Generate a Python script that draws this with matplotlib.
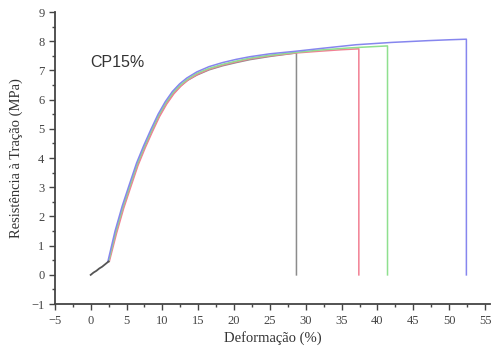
import matplotlib
matplotlib.use("Agg")
import matplotlib.pyplot as plt
from matplotlib.ticker import MultipleLocator

### Data ###

## common start of the test (toe region)
x_toe = [0, 0.4, 0.8, 1.2, 1.6, 2.0, 2.5]
y_toe = [0, 0.08, 0.14, 0.22, 0.28, 0.36, 0.46]

## gray specimen
x_gray = [2.5, 3.5, 4.5, 5.5, 6.5, 7.5, 8.5, 9.5, 10.5, 11.5, 12.5, 13.5, 14.8,
          16.5, 18.4, 20.3, 22.2, 25.0, 28.7, 28.7]
y_gray = [0.46, 1.42, 2.28, 3.02, 3.75, 4.35, 4.9, 5.42, 5.85, 6.2, 6.46, 6.66, 6.84,
          7.02, 7.16, 7.27, 7.37, 7.48, 7.6, 0]

## red specimen
x_red = [2.6, 3.6, 4.6, 5.6, 6.6, 7.6, 8.6, 9.6, 10.6, 11.6, 12.6, 13.6, 14.9,
         16.6, 18.5, 20.4, 22.3, 25.0, 28.7, 32.0, 35.0, 37.4, 37.4]
y_red = [0.46, 1.42, 2.28, 3.02, 3.75, 4.35, 4.9, 5.42, 5.85, 6.2, 6.47, 6.68, 6.87,
         7.05, 7.19, 7.3, 7.4, 7.5, 7.6, 7.66, 7.71, 7.74, 0]

## green specimen
x_green = [2.5, 3.5, 4.5, 5.5, 6.5, 7.5, 8.5, 9.5, 10.5, 11.5, 12.5, 13.5, 14.8,
           16.5, 18.4, 20.3, 22.2, 25.0, 28.7, 32.0, 36.0, 39.0, 41.4, 41.4]
y_green = [0.46, 1.47, 2.33, 3.07, 3.8, 4.4, 4.95, 5.47, 5.9, 6.25, 6.5, 6.7, 6.9,
           7.07, 7.21, 7.32, 7.42, 7.52, 7.62, 7.7, 7.77, 7.81, 7.84, 0]

## blue specimen
x_blue = [2.4, 3.4, 4.4, 5.4, 6.4, 7.4, 8.4, 9.4, 10.4, 11.4, 12.4, 13.4, 14.8,
          16.5, 18.4, 20.3, 22.2, 25.0, 28.7, 32.0, 37.0, 42.0, 47.0, 50.0, 52.4, 52.4]
y_blue = [0.46, 1.5, 2.36, 3.1, 3.83, 4.43, 4.98, 5.5, 5.93, 6.28, 6.54, 6.74, 6.95,
          7.13, 7.27, 7.38, 7.47, 7.57, 7.66, 7.75, 7.88, 7.96, 8.02, 8.05, 8.07, 0]

series = [
    (x_gray, y_gray, '#8c8c8c'),
    (x_red, y_red, '#f27f93'),
    (x_green, y_green, '#8fe08f'),
    (x_blue, y_blue, '#8686ee'),
]

### Plot ###

fig = plt.figure(figsize=(4.94, 3.54), dpi=100)
ax = fig.add_axes([0.111, 0.141, 0.881, 0.825])

for xs, ys, c in series:
    ax.plot(xs, ys, color=c, lw=1.1)
ax.plot(x_toe, y_toe, color='#555555', lw=1.3)

ax.set_xlim(-5, 55.7)
ax.set_ylim(-1, 9)
ax.xaxis.set_major_locator(MultipleLocator(5))
ax.xaxis.set_minor_locator(MultipleLocator(2.5))
ax.yaxis.set_major_locator(MultipleLocator(1))
ax.yaxis.set_minor_locator(MultipleLocator(0.5))

for s in ['top', 'right']:
    ax.spines[s].set_visible(False)
for s in ['left', 'bottom']:
    ax.spines[s].set_color('#444444')
    ax.spines[s].set_linewidth(1.3)

ax.tick_params(which='major', direction='out', length=4, width=1, color='#444444',
               labelsize=9, labelcolor='#444444')
ax.tick_params(which='minor', direction='out', length=2, width=1, color='#444444')
for lab in ax.get_xticklabels() + ax.get_yticklabels():
    lab.set_family('Liberation Serif')

ax.set_xlabel('Deformação (%)', family='Liberation Serif', fontsize=10.5,
              color='#333333', labelpad=3)
ax.set_ylabel('Resistência à Tração (MPa)', family='Liberation Serif', fontsize=10.5,
              color='#333333', labelpad=6)

ax.text(0, 7.12, 'CP15%', family='Liberation Sans', fontsize=11.5, color='#333333')

fig.savefig('out.png', dpi=100)
